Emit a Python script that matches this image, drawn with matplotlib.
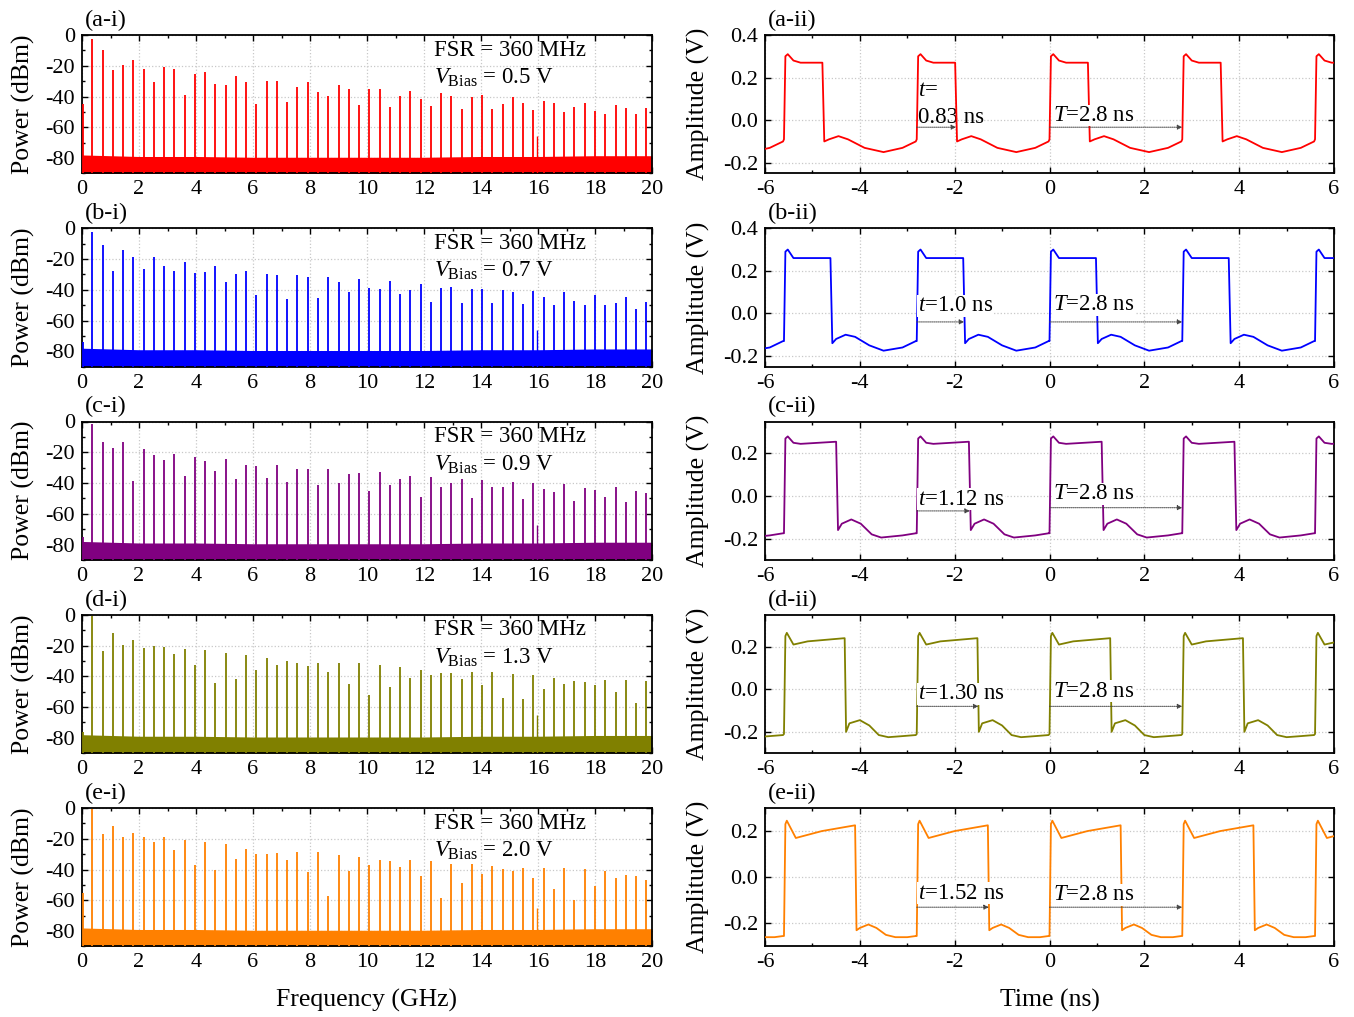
import matplotlib
matplotlib.use("Agg")
import matplotlib.pyplot as plt
from matplotlib.ticker import MultipleLocator, FormatStrFormatter

plt.rcParams['font.family'] = ['Liberation Serif', 'DejaVu Serif']
plt.rcParams['mathtext.fontset'] = 'custom'
plt.rcParams['mathtext.rm'] = 'Liberation Serif'
plt.rcParams['mathtext.it'] = 'Liberation Serif:italic'
plt.rcParams['axes.unicode_minus'] = False

# ---------------- data ----------------
PANELS = ['a', 'b', 'c', 'd', 'e']
COLORS = ['#ff0000', '#0000ff', '#800080', '#808000', '#ff8000']
V_BIAS = ['0.5', '0.7', '0.9', '1.3', '2.0']
FSR_GHZ = 0.36

# comb line powers (dBm) at n * 360 MHz, n = 1..55
PEAKS_A = [-2.8, -9.7, -22.7, -19.5, -16.2, -21.8, -30.3, -20.8, -22.0, -38.9,
           -25.5, -24.0, -32.0, -32.2, -26.4, -30.3, -44.8, -29.8, -29.8, -43.5,
           -33.7, -30.7, -37.0, -39.6, -32.4, -35.2, -45.4, -35.0, -34.8, -46.5,
           -39.6, -36.1, -41.3, -46.0, -37.4, -39.6, -47.8, -40.6, -39.1, -47.8,
           -45.0, -40.6, -44.5, -49.0, -42.6, -43.9, -49.9, -46.5, -44.0, -49.7,
           -51.5, -45.2, -47.4, -51.2, -47.6]
PEAKS_B = [-2.6, -11.2, -27.5, -14.0, -18.8, -26.8, -18.8, -24.4, -27.5, -21.8,
           -28.8, -28.3, -24.4, -35.2, -29.6, -27.5, -43.5, -30.0, -30.3, -45.8,
           -30.7, -32.0, -45.6, -32.0, -35.2, -41.7, -32.9, -38.9, -39.8, -34.6,
           -42.8, -40.0, -36.3, -48.0, -39.1, -38.3, -48.4, -39.6, -39.6, -48.4,
           -40.0, -41.5, -49.3, -40.9, -44.5, -49.9, -41.7, -47.1, -49.7, -43.2,
           -50.2, -48.4, -44.8, -52.3, -48.2]
PEAKS_C = [-1.9, -13.6, -17.1, -13.2, -38.9, -17.7, -22.0, -25.3, -21.0, -35.5,
           -23.1, -25.5, -32.0, -24.6, -37.6, -28.1, -29.2, -36.8, -28.1, -39.6,
           -31.1, -31.1, -41.1, -30.7, -40.2, -34.2, -33.7, -45.0, -33.1, -41.5,
           -37.6, -35.7, -49.0, -36.1, -42.6, -39.8, -37.6, -49.7, -38.3, -42.6,
           -42.6, -39.4, -50.6, -39.8, -44.1, -45.8, -40.9, -51.7, -43.2, -44.8,
           -49.0, -42.8, -52.3, -45.2, -46.3]
PEAKS_D = [-1.0, -23.6, -12.1, -19.5, -16.4, -21.4, -20.5, -21.0, -25.5, -22.0,
           -32.4, -22.7, -44.1, -24.6, -41.7, -26.2, -35.7, -28.3, -32.9, -30.3,
           -31.6, -33.5, -31.1, -37.4, -31.1, -44.8, -31.4, -52.1, -32.4, -46.7,
           -33.9, -41.3, -35.7, -39.4, -38.1, -37.8, -41.5, -37.2, -45.8, -37.2,
           -54.0, -38.3, -54.5, -39.0, -48.6, -41.0, -45.0, -42.8, -43.7, -46.0,
           -42.4, -50.0, -42.4, -57.5, -43.0]
PEAKS_E = [-0.5, -16.9, -11.6, -18.6, -16.2, -18.6, -21.9, -19.1, -27.4, -20.8,
           -37.3, -21.9, -40.5, -23.7, -32.9, -26.5, -30.0, -29.8, -29.4, -34.0,
           -28.7, -41.6, -28.9, -57.0, -30.5, -41.2, -32.0, -37.0, -34.0, -34.4,
           -38.4, -34.0, -44.5, -34.2, -58.7, -36.6, -48.7, -36.6, -42.7, -37.7,
           -39.9, -40.8, -38.8, -45.4, -39.0, -52.6, -39.2, -60.0, -39.7, -50.4,
           -41.0, -45.8, -43.8, -44.0, -46.7]
PEAKS = [PEAKS_A, PEAKS_B, PEAKS_C, PEAKS_D, PEAKS_E]

# DC line and the spur near 16 GHz
DC_DBM = [-45, -74, -75, -76, -55]
SPUR_GHZ = 15.95
SPUR_DBM = [-66, -66, -67, -65, -65]

# noise floor top (dBm) every 2 GHz
FLOOR_GHZ = [0, 2, 4, 6, 8, 10, 12, 14, 16, 18, 20]
FLOOR_DBM = [-78, -79, -79, -79.5, -79.5, -79.5, -79.5, -79, -79, -78.5, -78.5]

# one period of each waveform, time after rising edge (ns) and amplitude (V)
PERIOD_NS = 2.8
RISE_EDGES = [-8.4, -5.6, -2.8, 0.0, 2.8, 5.6]
TAU_A = [0, 0.03, 0.08, 0.2, 0.35, 0.81, 0.85, 0.95, 1.15, 1.35, 1.7, 2.1, 2.5, 2.78]
AMP_A = [-0.09, 0.30, 0.31, 0.28, 0.27, 0.27, -0.10, -0.09, -0.075, -0.09, -0.13, -0.15, -0.13, -0.10]
TAU_B = [0, 0.03, 0.08, 0.2, 0.35, 0.98, 1.02, 1.1, 1.3, 1.5, 1.8, 2.1, 2.5, 2.78]
AMP_B = [-0.13, 0.29, 0.30, 0.26, 0.26, 0.26, -0.14, -0.12, -0.10, -0.11, -0.15, -0.175, -0.16, -0.13]
TAU_C = [0, 0.03, 0.08, 0.2, 0.35, 1.10, 1.14, 1.22, 1.42, 1.62, 1.85, 2.05, 2.5, 2.78]
AMP_C = [-0.175, 0.27, 0.28, 0.25, 0.245, 0.255, -0.16, -0.13, -0.11, -0.13, -0.18, -0.195, -0.185, -0.175]
TAU_D = [0, 0.03, 0.06, 0.2, 0.5, 1.28, 1.31, 1.38, 1.6, 1.8, 2.0, 2.2, 2.5, 2.78]
AMP_D = [-0.21, 0.25, 0.265, 0.21, 0.225, 0.24, -0.20, -0.16, -0.145, -0.17, -0.215, -0.225, -0.22, -0.215]
TAU_E = [0, 0.03, 0.06, 0.25, 0.8, 1.50, 1.53, 1.6, 1.78, 1.95, 2.15, 2.35, 2.6, 2.78]
AMP_E = [-0.255, 0.23, 0.245, 0.17, 0.20, 0.225, -0.23, -0.22, -0.205, -0.22, -0.25, -0.26, -0.26, -0.255]
TAUS = [TAU_A, TAU_B, TAU_C, TAU_D, TAU_E]
AMPS = [AMP_A, AMP_B, AMP_C, AMP_D, AMP_E]

PULSE_NS = [0.83, 1.0, 1.12, 1.30, 1.52]
PULSE_TXT = ['$t$=\n0.83 ns', '$t$=1.0 ns', '$t$=1.12 ns', '$t$=1.30 ns', '$t$=1.52 ns']

# ---------------- layout ----------------
AMP_YLIM = [(-0.25, 0.4), (-0.25, 0.4), (-0.3, 0.35), (-0.3, 0.35), (-0.3, 0.3)]
AMP_TICKS = [[-0.2, 0.0, 0.2, 0.4], [-0.2, 0.0, 0.2, 0.4], [-0.2, 0.0, 0.2],
             [-0.2, 0.0, 0.2], [-0.2, 0.0, 0.2]]
ARROW_Y = [-0.033, -0.04, -0.07, -0.08, -0.13]
PULSE_TXT_Y = [0.075, 0.035, -0.016, -0.022, -0.07]
PERIOD_ARROW_Y = [-0.033, -0.04, -0.055, -0.08, -0.13]
PERIOD_TXT_Y = [0.022, 0.04, 0.011, -0.01, -0.076]
PULSE_BOX = [False, True, True, True, True]

W, H = 1354, 1017
fig = plt.figure(figsize=(W / 100, H / 100), dpi=100)

TICK_FS = 16
LABEL_FS = 18.5
grid_kw = dict(color='#c8c8c8', linestyle=':', linewidth=0.9)


def style(ax):
    ax.tick_params(direction='in', which='both', top=True, right=True,
                   labelsize=TICK_FS, length=4, width=1.0, pad=5)
    ax.tick_params(which='minor', length=2)
    for s in ax.spines.values():
        s.set_linewidth(1.3)
    ax.grid(True, **grid_kw)
    ax.set_axisbelow(True)


for i, p in enumerate(PANELS):
    top = 35 + i * 193.25
    hgt = 138.4
    bottom = 1 - (top + hgt) / H
    col = COLORS[i]

    # ---- spectrum ----
    ax = fig.add_axes([82 / W, bottom, 570 / W, hgt / H])
    ax.fill_between(FLOOR_GHZ, -90, FLOOR_DBM, color=col, lw=0, zorder=2)
    freqs = [FSR_GHZ * (n + 1) for n in range(len(PEAKS[i]))]
    ax.vlines(freqs, -90, PEAKS[i], color=col, lw=1.3, zorder=3)
    ax.vlines([0.03], -90, [DC_DBM[i]], color=col, lw=1.3, zorder=3)
    ax.vlines([SPUR_GHZ], -90, [SPUR_DBM[i]], color=col, lw=1.0, zorder=3)
    ax.set_xlim(0, 20)
    ax.set_ylim(-90, 0)
    ax.xaxis.set_major_locator(MultipleLocator(2))
    ax.xaxis.set_minor_locator(MultipleLocator(1))
    ax.yaxis.set_major_locator(MultipleLocator(20))
    ax.yaxis.set_minor_locator(MultipleLocator(10))
    style(ax)
    ax.set_ylabel('Power (dBm)', fontsize=LABEL_FS)
    ax.yaxis.set_label_coords(-0.083, 0.5)
    ax.text(0.005, 1.03, '(%s-i)' % p, transform=ax.transAxes, fontsize=17.5,
            va='bottom', ha='left')
    ax.text(0.618, 0.89, 'FSR = 360 MHz', transform=ax.transAxes, fontsize=16.5,
            va='center', ha='left', zorder=5)
    ax.text(0.618, 0.69, r'$V_{\mathrm{Bias}}$ = %s V' % V_BIAS[i],
            transform=ax.transAxes, fontsize=16.5, va='center', ha='left', zorder=5)
    if i == 4:
        ax.set_xlabel('Frequency (GHz)', fontsize=LABEL_FS, labelpad=12)

    # ---- time trace ----
    ax2 = fig.add_axes([765 / W, bottom, 569 / W, hgt / H])
    t_all, v_all = [], []
    for e in RISE_EDGES:
        t_all += [e + x for x in TAUS[i]]
        v_all += AMPS[i]
    ax2.plot(t_all, v_all, color=col, lw=1.3, zorder=3)
    ax2.set_xlim(-6, 6)
    ax2.set_ylim(*AMP_YLIM[i])
    ax2.set_yticks(AMP_TICKS[i])
    ax2.yaxis.set_major_formatter(FormatStrFormatter('%.1f'))
    ax2.xaxis.set_major_locator(MultipleLocator(2))
    ax2.xaxis.set_minor_locator(MultipleLocator(1))
    style(ax2)
    ax2.set_ylabel('Amplitude (V)', fontsize=LABEL_FS)
    ax2.yaxis.set_label_coords(-0.097, 0.5)
    ax2.text(0.005, 1.03, '(%s-ii)' % p, transform=ax2.transAxes, fontsize=17.5,
             va='bottom', ha='left')

    arrow_kw = dict(arrowstyle='-|>', linestyle=(0, (1, 1)), lw=0.7,
                    color='#444444', mutation_scale=7, shrinkA=0, shrinkB=0)
    ax2.annotate('', xy=(-2.8 + PULSE_NS[i], ARROW_Y[i]), xytext=(-2.8, ARROW_Y[i]),
                 arrowprops=arrow_kw, zorder=6)
    ax2.annotate('', xy=(PERIOD_NS, PERIOD_ARROW_Y[i]), xytext=(0.0, PERIOD_ARROW_Y[i]),
                 arrowprops=arrow_kw, zorder=6)
    box = dict(facecolor='white', edgecolor='none', pad=0.3)
    ax2.text(-2.78, PULSE_TXT_Y[i], PULSE_TXT[i], fontsize=16.5, va='center',
             ha='left', linespacing=1.35, zorder=5 if PULSE_BOX[i] else 2,
             bbox=box if PULSE_BOX[i] else None)
    ax2.text(0.08, PERIOD_TXT_Y[i], r'$T$=2.8 ns', fontsize=16.5, va='center',
             ha='left', zorder=5, bbox=box)
    if i == 4:
        ax2.set_xlabel('Time (ns)', fontsize=LABEL_FS, labelpad=12)

fig.savefig('out.png', dpi=100)
